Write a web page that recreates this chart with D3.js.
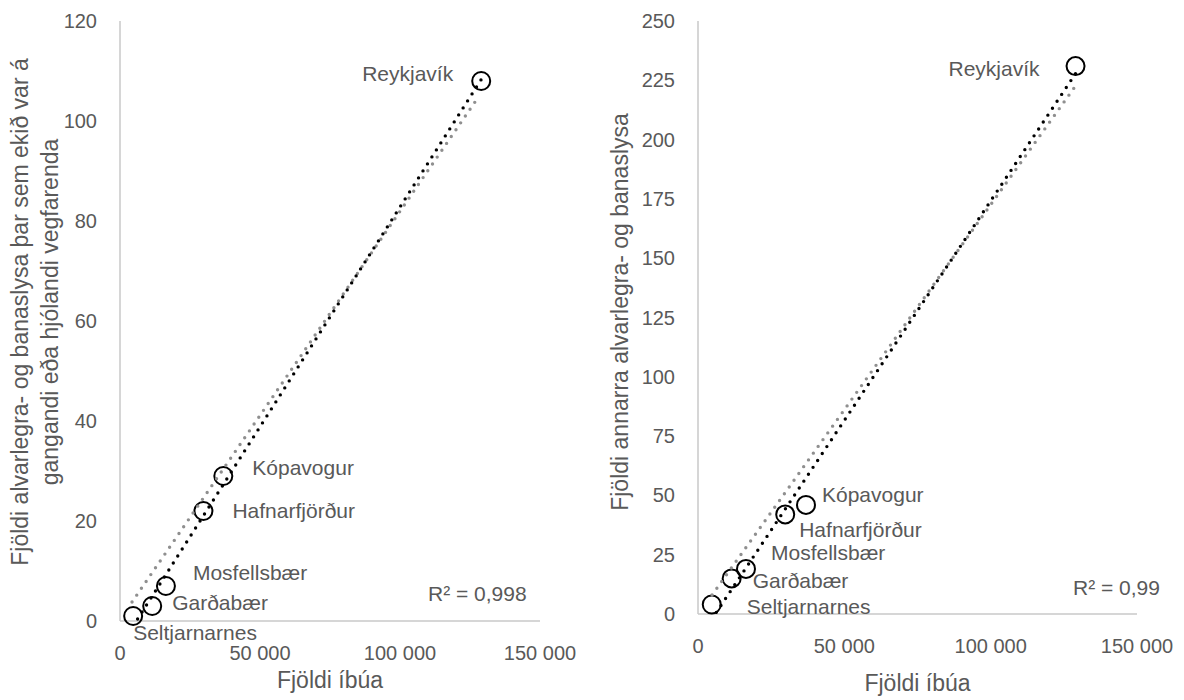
<!DOCTYPE html>
<html>
<head>
<meta charset="utf-8">
<script src="https://cdn.jsdelivr.net/npm/d3@7"></script>
<style>
  body { margin: 0; background: #fff; }
  svg text { font-family: "Liberation Sans", Arial, sans-serif; fill: #595959; }
</style>
</head>
<body>
<script>
// sveitarfélög og íbúafjöldi (sama í báðum myndum)
const towns = ["Reykjavík", "Kópavogur", "Hafnarfjörður", "Mosfellsbær", "Garðabær", "Seltjarnarnes"];
const population = [129000, 36900, 29800, 16400, 11500, 4700];
// vinstri: slys á gangandi/hjólandi, hægri: önnur slys
const leftValues = [108, 29, 22, 7, 3, 1];
const rightValues = [231, 46, 42, 19, 15, 4];
// grá punktalína (endapunktar í gagnagildum)
const leftGray = [[4300, 3.8], [128000, 104.8]];
const rightGray = [[4800, 8], [128500, 221.8]];
const xTicks = [0, 50000, 100000, 150000];
const leftYTicks = [0, 20, 40, 60, 80, 100, 120];
const rightYTicks = [0, 25, 50, 75, 100, 125, 150, 175, 200, 225, 250];
const leftR2 = "R² = 0,998";
const rightR2 = "R² = 0,99";

const width = 1184, height = 700;
const svg = d3.select("body").append("svg")
    .attr("width", width)
    .attr("height", height);

const fmt = v => v === 0 ? "0" : d3.format(",")(v).replace(/,/g, " ");

function regression(xs, ys) {
    const mx = d3.mean(xs), my = d3.mean(ys);
    let sxy = 0, sxx = 0;
    xs.forEach((x, i) => { sxy += (x - mx) * (ys[i] - my); sxx += (x - mx) * (x - mx); });
    const slope = sxy / sxx;
    return { slope, intercept: my - slope * mx };
}

function drawChart(cfg) {
    const x = d3.scaleLinear().domain([0, 150000]).range(cfg.xRange);
    const y = d3.scaleLinear().domain(cfg.yDomain).range(cfg.yRange);
    const g = svg.append("g");

    // ás-línur
    g.append("line")
        .attr("x1", x(0)).attr("x2", x(0))
        .attr("y1", y(cfg.yDomain[1])).attr("y2", y(0))
        .attr("stroke", "#c8c8c8").attr("stroke-width", 1.5);
    g.append("line")
        .attr("x1", x(0)).attr("x2", x(150000))
        .attr("y1", y(0)).attr("y2", y(0))
        .attr("stroke", "#c8c8c8").attr("stroke-width", 1.5);

    // y ticks
    g.selectAll(".yt").data(cfg.yTicks).enter().append("text")
        .attr("x", x(0) - 23)
        .attr("y", d => y(d))
        .attr("dy", "0.35em")
        .attr("text-anchor", "end")
        .attr("font-size", 20)
        .text(d => d);

    // x ticks
    g.selectAll(".xt").data(xTicks).enter().append("text")
        .attr("x", d => x(d))
        .attr("y", y(0) + 39)
        .attr("text-anchor", "middle")
        .attr("font-size", 20)
        .text(fmt);

    // titlar
    g.append("text")
        .attr("x", (x(0) + x(150000)) / 2)
        .attr("y", cfg.xTitleY)
        .attr("text-anchor", "middle")
        .attr("font-size", 23)
        .text("Fjöldi íbúa");

    cfg.yTitle.forEach((line, i) => {
        g.append("text")
            .attr("transform", `translate(${cfg.yTitleX[i]},${cfg.yTitleCY}) rotate(-90)`)
            .attr("text-anchor", "middle")
            .attr("font-size", 23)
            .text(line);
    });

    // hringir
    g.selectAll("circle").data(towns).enter().append("circle")
        .attr("cx", (d, i) => x(population[i]))
        .attr("cy", (d, i) => y(cfg.values[i]))
        .attr("r", 9)
        .attr("fill", "none")
        .attr("stroke", "#000")
        .attr("stroke-width", 2);

    // klippa línur við teiknisvæði
    const clipId = "clip" + cfg.id;
    svg.append("clipPath").attr("id", clipId).append("rect")
        .attr("x", x(0)).attr("y", y(cfg.yDomain[1]))
        .attr("width", x(150000) - x(0)).attr("height", y(0) - y(cfg.yDomain[1]));

    const line = d3.line().x(d => x(d[0])).y(d => y(d[1]));

    g.append("path")
        .datum(cfg.gray)
        .attr("clip-path", `url(#${clipId})`)
        .attr("d", line)
        .attr("fill", "none")
        .attr("stroke", "#8f8f8f")
        .attr("stroke-width", 3.4)
        .attr("stroke-linecap", "round")
        .attr("stroke-dasharray", "0 8.3");

    const reg = regression(population, cfg.values);
    const x0 = d3.min(population), x1 = d3.max(population);
    g.append("path")
        .datum([[x0, reg.intercept + reg.slope * x0], [x1, reg.intercept + reg.slope * x1]])
        .attr("clip-path", `url(#${clipId})`)
        .attr("d", line)
        .attr("fill", "none")
        .attr("stroke", "#000")
        .attr("stroke-width", 3.4)
        .attr("stroke-linecap", "round")
        .attr("stroke-dasharray", "0 8.3");

    // merkingar
    g.selectAll(".lbl").data(towns).enter().append("text")
        .attr("x", (d, i) => x(population[i]) + cfg.labelPos[d][0])
        .attr("y", (d, i) => y(cfg.values[i]) + cfg.labelPos[d][1])
        .attr("text-anchor", d => cfg.labelPos[d][2] || "start")
        .attr("font-size", 21)
        .text(d => d);

    g.append("text")
        .attr("x", cfg.r2Pos[0])
        .attr("y", cfg.r2Pos[1])
        .attr("font-size", 21)
        .text(cfg.r2);
}

drawChart({
    id: "L",
    xRange: [120, 540],
    yDomain: [0, 120],
    yRange: [621, 21],
    yTicks: leftYTicks,
    values: leftValues,
    gray: leftGray,
    r2: leftR2,
    r2Pos: [428, 601],
    xTitleY: 688,
    yTitle: ["Fjöldi alvarlegra- og banaslysa þar sem ekið var á", "gangandi eða hjólandi vegfarenda"],
    yTitleX: [28, 58],
    yTitleCY: 312,
    labelPos: {
        "Reykjavík": [-28, 0, "end"],
        "Kópavogur": [29, -1],
        "Hafnarfjörður": [29, 7],
        "Mosfellsbær": [27, -6],
        "Garðabær": [20, 4],
        "Seltjarnarnes": [0, 24]
    }
});

drawChart({
    id: "R",
    xRange: [698, 1137],
    yDomain: [0, 250],
    yRange: [614, 21],
    yTicks: rightYTicks,
    values: rightValues,
    gray: rightGray,
    r2: rightR2,
    r2Pos: [1073, 595],
    xTitleY: 691,
    yTitle: ["Fjöldi annarra alvarlegra- og banaslysa"],
    yTitleX: [628],
    yTitleCY: 312,
    labelPos: {
        "Reykjavík": [-36, 10, "end"],
        "Kópavogur": [16, -3],
        "Hafnarfjörður": [14, 23],
        "Mosfellsbær": [25, -9],
        "Garðabær": [21, 10],
        "Seltjarnarnes": [35, 9]
    }
});
</script>
</body>
</html>
